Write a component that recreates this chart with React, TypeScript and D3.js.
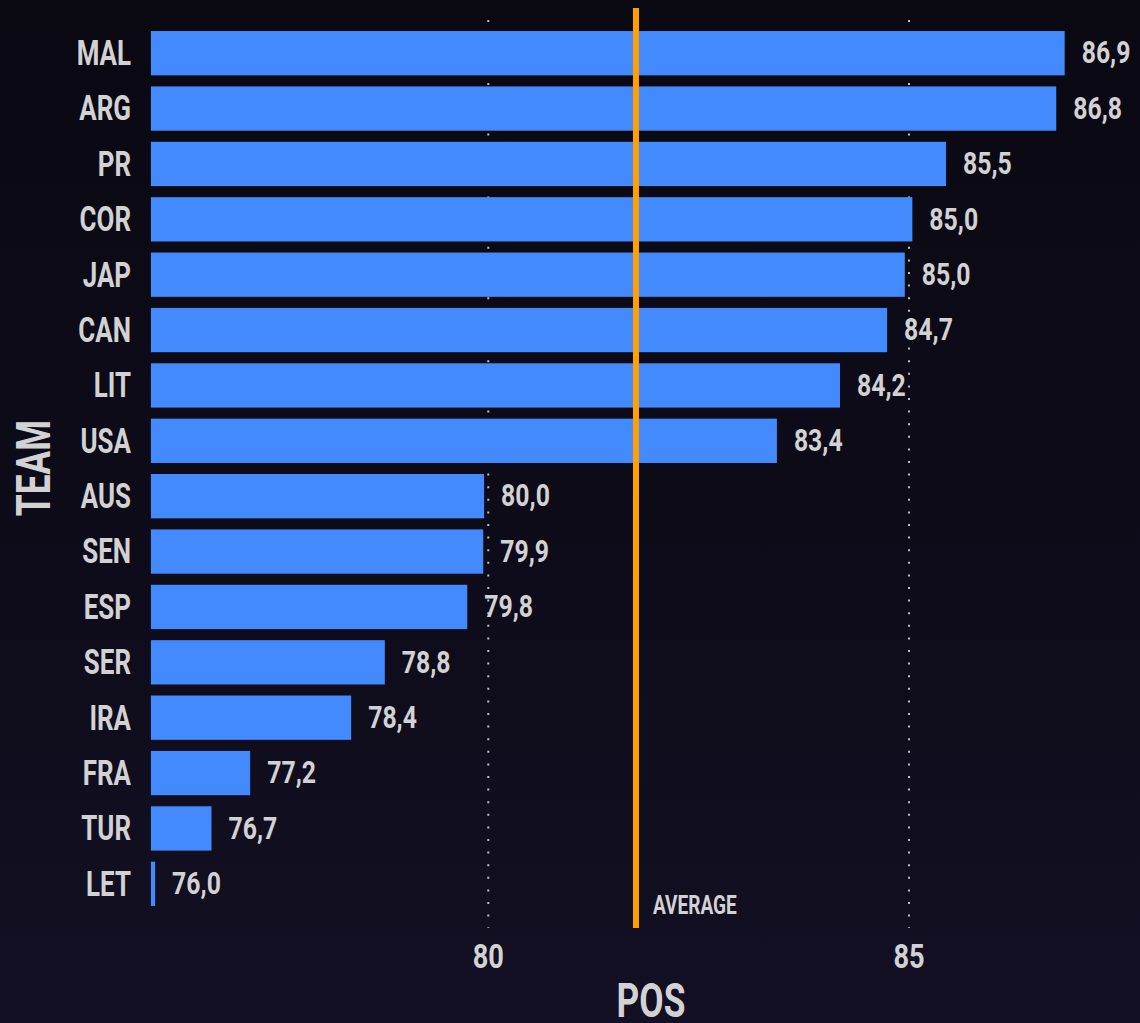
import React, { useRef, useEffect } from 'react';
import * as d3 from 'd3';

const TEAMS = ['MAL', 'ARG', 'PR', 'COR', 'JAP', 'CAN', 'LIT', 'USA', 'AUS', 'SEN', 'ESP', 'SER', 'IRA', 'FRA', 'TUR', 'LET'];
// bar lengths (unrounded)
const POS = [86.85, 86.75, 85.44, 85.04, 84.95, 84.74, 84.18, 83.43, 79.95, 79.94, 79.75, 78.77, 78.37, 77.17, 76.71, 76.04];
// printed labels
const POS_LABELS = ['86,9', '86,8', '85,5', '85,0', '85,0', '84,7', '84,2', '83,4', '80,0', '79,9', '79,8', '78,8', '78,4', '77,2', '76,7', '76,0'];
const X_TICKS = [80, 85];
const X_MIN = 75.99;

const FONT = 'Roboto, "DejaVu Sans Condensed", sans-serif';
const TEXT = '#d2d2d4';
const BAR = '#448aff';
const AVG = '#ffa000';
// the reference face is a condensed one, so squeeze Roboto horizontally
const SX_LETTERS = 0.72;
const SX_DIGITS = 0.8;

const W = 1140;
const H = 1023;

const App: React.FC = () => {
  const svgRef = useRef<SVGSVGElement>(null);

  useEffect(() => {
    if (!svgRef.current) return;
    const svg = d3.select(svgRef.current);
    svg.selectAll('*').remove();

    // background gradient
    const grad = svg.append('defs').append('linearGradient')
      .attr('id', 'bg').attr('x1', '0').attr('y1', '0').attr('x2', '0').attr('y2', '1');
    grad.append('stop').attr('offset', '0%').attr('stop-color', '#0a0912');
    grad.append('stop').attr('offset', '60%').attr('stop-color', '#0e0c1a');
    grad.append('stop').attr('offset', '100%').attr('stop-color', '#141024');
    svg.append('rect').attr('width', W).attr('height', H).attr('fill', 'url(#bg)');

    const x = d3.scaleLinear().domain([80, 85]).range([488.3, 909]);
    const y = d3.scaleBand<string>().domain(TEAMS).range([25.5, 911.5]).paddingInner(0.2).paddingOuter(0.1);
    const avg = d3.mean(POS)!;

    const label = (g: d3.Selection<any, any, any, any>, size: number) =>
      g.attr('fill', TEXT)
        .attr('font-family', FONT)
        .attr('font-weight', 'bold')
        .attr('font-size', size);

    // dotted grid
    svg.append('g')
      .selectAll('line')
      .data(X_TICKS)
      .join('line')
      .attr('x1', d => x(d)).attr('x2', d => x(d))
      .attr('y1', 20).attr('y2', 928)
      .attr('stroke', '#bdbdc4')
      .attr('stroke-width', 2)
      .attr('stroke-dasharray', '2 10.6');

    // bars
    svg.append('g')
      .selectAll('rect')
      .data(TEAMS)
      .join('rect')
      .attr('x', x(X_MIN))
      .attr('y', d => y(d)!)
      .attr('width', (_, i) => x(POS[i]) - x(X_MIN))
      .attr('height', y.bandwidth())
      .attr('fill', BAR);

    // value labels
    label(svg.append('g'), 31)
      .selectAll('text')
      .data(TEAMS)
      .join('text')
      .attr('transform', (d, i) => `translate(${x(POS[i]) + 17},${y(d)! + y.bandwidth() / 2}) scale(${SX_DIGITS},1)`)
      .attr('dy', '0.33em')
      .text((_, i) => POS_LABELS[i]);

    // category labels
    label(svg.append('g'), 36)
      .selectAll('text')
      .data(TEAMS)
      .join('text')
      .attr('transform', d => `translate(131,${y(d)! + y.bandwidth() / 2}) scale(${SX_LETTERS},1)`)
      .attr('dy', '0.33em')
      .attr('text-anchor', 'end')
      .text(d => d);

    // average line
    svg.append('line')
      .attr('x1', x(avg)).attr('x2', x(avg))
      .attr('y1', 8).attr('y2', 928)
      .attr('stroke', AVG)
      .attr('stroke-width', 6);
    label(svg.append('text'), 26.5)
      .attr('transform', `translate(${x(avg) + 17},914) scale(${SX_LETTERS},1)`)
      .text('AVERAGE');

    // x tick labels
    label(svg.append('g'), 34)
      .selectAll('text')
      .data(X_TICKS)
      .join('text')
      .attr('transform', d => `translate(${x(d)},968) scale(${SX_DIGITS},1)`)
      .attr('text-anchor', 'middle')
      .text(d => d);

    // axis titles
    label(svg.append('text'), 49)
      .attr('transform', `translate(651,1016.5) scale(${SX_LETTERS},1)`)
      .attr('text-anchor', 'middle')
      .text('POS');
    label(svg.append('text'), 49)
      .attr('transform', `translate(50,468) rotate(-90) scale(${SX_LETTERS},1)`)
      .attr('text-anchor', 'middle')
      .text('TEAM');
  }, []);

  return <svg ref={svgRef} width={W} height={H} style={{ display: 'block', position: 'absolute', left: 0, top: 0 }} />;
};

export default App;
